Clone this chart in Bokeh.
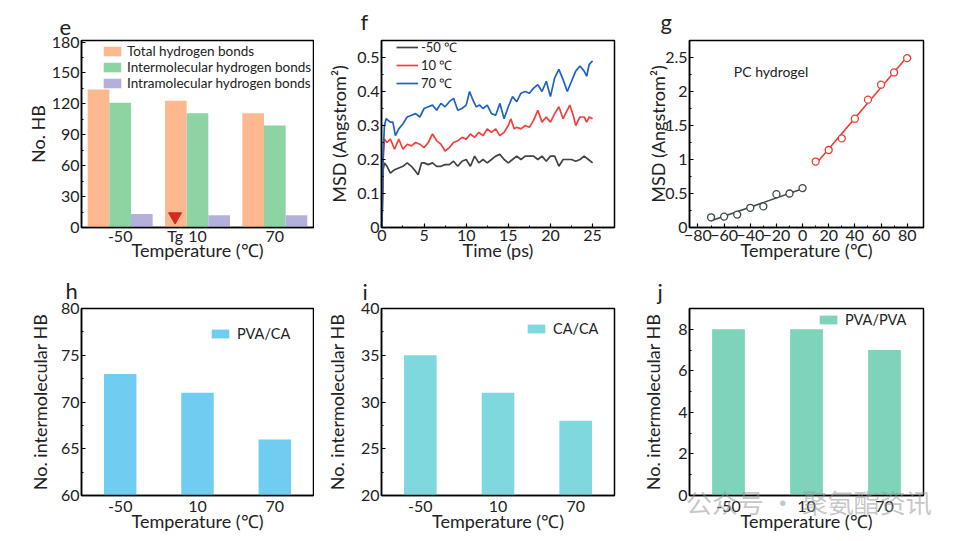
from bokeh.plotting import figure
from bokeh.models import (FactorRange, Range1d, Legend, LegendItem, Label, Title,
                          FixedTicker, ColumnDataSource, Div)
from bokeh.transform import dodge
from bokeh.layouts import column, row
from bokeh.embed import file_html
from bokeh.resources import INLINE
import numpy as np

FONT = "Lato"

# ---------------- data ----------------
temps = ["-50", "10", "70"]
total_hb = [134, 123, 111]
inter_hb = [121, 111, 99]
intra_hb = [13, 12, 12]
tg_marker_y = [10.6]
tg_label = "Tg"

t_m50 = [0, 0.15, 0.3, 0.6, 1.0, 1.5, 2.0, 2.5, 3.0, 3.5, 4.0, 4.3, 4.7, 5.0, 5.5, 6.0, 6.5, 7.0, 7.5, 8.0,
         8.5, 9.0, 9.5, 10.0, 10.5, 11.0, 11.5, 12.0, 12.5, 13.0, 13.5, 14.0, 14.5, 15.0, 15.5, 16.0, 16.5,
         17.0, 17.5, 18.0, 18.5, 19.0, 19.5, 20.0, 20.5, 21.0, 21.5, 22.0, 22.5, 23.0, 23.5, 24.0, 24.5, 25.0]
msd_m50 = [0.0, 0.17, 0.19, 0.18, 0.16, 0.17, 0.175, 0.18, 0.19, 0.18, 0.165, 0.155, 0.19, 0.19, 0.185,
           0.19, 0.18, 0.18, 0.185, 0.185, 0.195, 0.18, 0.195, 0.20, 0.18, 0.21, 0.19, 0.20, 0.19, 0.20,
           0.21, 0.215, 0.20, 0.19, 0.20, 0.21, 0.20, 0.21, 0.21, 0.21, 0.20, 0.21, 0.195, 0.21, 0.21,
           0.18, 0.20, 0.20, 0.20, 0.195, 0.20, 0.21, 0.20, 0.19]

t_10 = [0, 0.15, 0.3, 0.6, 1.0, 1.5, 2.0, 2.5, 3.0, 3.5, 4.0, 4.5, 5.0, 5.5, 6.0, 6.5, 7.0, 7.5, 8.0, 8.5,
        9.0, 9.5, 10.0, 10.5, 11.0, 11.5, 12.0, 12.5, 13.0, 13.5, 14.0, 14.5, 15.0, 15.3, 15.7, 16.0, 16.5,
        17.0, 17.5, 18.0, 18.5, 19.0, 19.5, 20.0, 20.5, 21.0, 21.5, 22.0, 22.3, 22.7, 23.0, 23.5, 24.0,
        24.3, 24.6, 25.0]
msd_10 = [0.0, 0.2, 0.26, 0.25, 0.26, 0.23, 0.26, 0.23, 0.245, 0.24, 0.25, 0.245, 0.235, 0.25, 0.275,
          0.255, 0.245, 0.225, 0.235, 0.25, 0.255, 0.265, 0.26, 0.275, 0.265, 0.28, 0.27, 0.29, 0.28, 0.29,
          0.27, 0.28, 0.30, 0.32, 0.29, 0.295, 0.29, 0.30, 0.295, 0.315, 0.345, 0.31, 0.325, 0.31, 0.335,
          0.355, 0.32, 0.345, 0.36, 0.33, 0.30, 0.325, 0.325, 0.31, 0.325, 0.32]

t_70 = [0, 0.15, 0.3, 0.5, 1.0, 1.3, 1.6, 2.0, 2.5, 3.0, 3.5, 4.0, 4.5, 5.0, 5.5, 6.0, 6.5, 7.0, 7.5, 8.0,
        8.5, 9.0, 9.5, 10.0, 10.4, 10.8, 11.2, 11.6, 12.0, 12.5, 13.0, 13.5, 14.0, 14.5, 15.0, 15.5, 16.0,
        16.5, 17.0, 17.5, 18.0, 18.5, 19.0, 19.5, 20.0, 20.5, 21.0, 21.5, 22.0, 22.5, 23.0, 23.5, 24.0,
        24.3, 24.6, 25.0]
msd_70 = [0.0, 0.22, 0.30, 0.32, 0.31, 0.31, 0.27, 0.29, 0.305, 0.325, 0.33, 0.335, 0.325, 0.35, 0.355,
          0.36, 0.345, 0.365, 0.355, 0.37, 0.38, 0.345, 0.35, 0.36, 0.40, 0.375, 0.355, 0.36, 0.35, 0.36,
          0.335, 0.33, 0.365, 0.32, 0.355, 0.385, 0.37, 0.395, 0.40, 0.395, 0.41, 0.42, 0.40, 0.43, 0.385,
          0.44, 0.465, 0.435, 0.40, 0.43, 0.46, 0.475, 0.46, 0.445, 0.48, 0.49]

g_temp_low = [-70, -60, -50, -40, -30, -20, -10, 0]
g_msd_low = [0.15, 0.16, 0.19, 0.29, 0.31, 0.49, 0.50, 0.58]
g_temp_high = [10, 20, 30, 40, 50, 60, 70, 80]
g_msd_high = [0.97, 1.14, 1.31, 1.60, 1.88, 2.10, 2.28, 2.49]

pva_ca = [73, 71, 66]
ca_ca = [35, 31, 28]
pva_pva = [8, 8, 7]

e_yticks = [0, 30, 60, 90, 120, 150, 180]
f_xticks = [0, 5, 10, 15, 20, 25]
f_yticks = [0.0, 0.1, 0.2, 0.3, 0.4, 0.5]
g_xticks = [-80, -60, -40, -20, 0, 20, 40, 60, 80]
g_yticks = [0.0, 0.5, 1.0, 1.5, 2.0, 2.5]
h_yticks = [60, 65, 70, 75, 80]
i_yticks = [20, 25, 30, 35, 40]
j_yticks = [0, 2, 4, 6, 8]

TEMP_LABEL = "Temperature (℃)"
MSD_LABEL = "MSD (Angstrom²)"
HB_LABEL = "No. intermolecular HB"
WATERMARK = "公众号 · 聚氨酯资讯"

TXT = "#222222"
W = 314
H_TOP, H_BOT = 270, 268
# (left, right) borders for the three columns; (top, bottom) borders for the two rows
COL_B = [(81, 1), (67, 14), (61, 19)]
TOP_B = (40, 43)
BOT_B = (38, 43)


def make_fig(h, xr, yr, col, rowb, **kw):
    bl, br = COL_B[col]
    bt, bb = rowb
    p = figure(width=W, height=h, x_range=xr, y_range=yr, output_backend="svg",
               toolbar_location=None, min_border_left=bl, min_border_right=br,
               min_border_top=bt, min_border_bottom=bb, **kw)
    p.outline_line_color = "black"
    p.outline_line_width = 1.5
    p.outline_line_alpha = 1.0
    p.grid.visible = False
    p.background_fill_color = "white"
    p.border_fill_color = "white"
    return p


def style_axes(p, ystd, xlab_std, xtitle_std):
    for ax in p.axis:
        ax.axis_line_width = 1.5
        ax.axis_line_color = "black"
        ax.major_tick_in = 4
        ax.major_tick_out = 0
        ax.minor_tick_in = 2
        ax.minor_tick_out = 0
        ax.major_tick_line_width = 1.2
        ax.major_label_text_font = FONT
        ax.major_label_text_font_size = "16px"
        ax.major_label_text_color = TXT
        ax.axis_label_text_font = FONT
        ax.axis_label_text_font_size = "18px"
        ax.axis_label_text_font_style = "normal"
        ax.axis_label_text_color = TXT
    for ax in p.xaxis:
        ax.major_label_standoff = xlab_std
        ax.axis_label_standoff = xtitle_std
    for ax in p.yaxis:
        ax.axis_label_standoff = ystd
        ax.major_label_standoff = 2


def panel_title(p, t, offset, standoff, valign):
    p.add_layout(Title(text=t, align="left", offset=offset, standoff=standoff, vertical_align=valign,
                       text_font=FONT, text_font_size="22px", text_font_style="normal",
                       text_color=TXT), "above")


def style_legend(leg, size):
    leg.border_line_alpha = 0
    leg.background_fill_alpha = 0
    leg.padding = 0
    leg.margin = 0
    leg.spacing = 0
    leg.glyph_width = 22
    leg.label_text_font = FONT
    leg.label_text_font_size = size
    leg.label_text_color = TXT


# ---------------- panel e ----------------
n_cat = len(temps)
cat_pos = [i + 0.5 for i in range(n_cat)]           # centre of each temperature group
pe = make_fig(H_TOP, Range1d(0, n_cat), Range1d(0, 181.5), 0, TOP_B)
tg_pos = cat_pos[temps.index("10")] - 0.29
tick_pos = cat_pos + [tg_pos]
tick_txt = temps + [tg_label]
pe.xaxis.ticker = FixedTicker(ticks=tick_pos)
pe.xaxis.major_label_overrides = {pos_: txt_ for pos_, txt_ in zip(tick_pos, tick_txt)}
pe.xaxis.axis_label = TEMP_LABEL
src_e = ColumnDataSource(dict(xc=cat_pos, total=total_hb, inter=inter_hb, intra=intra_hb))
r_tot = pe.vbar(x=dodge("xc", -0.28), top="total", width=0.28, source=src_e,
                fill_color="#fdb88f", line_color=None)
r_inter = pe.vbar(x=dodge("xc", 0.0), top="inter", width=0.28, source=src_e,
                  fill_color="#8cd4a2", line_color=None)
r_intra = pe.vbar(x=dodge("xc", 0.28), top="intra", width=0.28, source=src_e,
                  fill_color="#b4b0dc", line_color=None)
src_tg = ColumnDataSource(dict(xc=[tg_pos], y=tg_marker_y))
pe.scatter(x="xc", y="y", source=src_tg, marker="inverted_triangle",
           size=13, fill_color="#d42a20", line_color="#d42a20")
pe.yaxis.ticker = FixedTicker(ticks=e_yticks, minor_ticks=[15, 45, 75, 105, 135, 165])
pe.yaxis.axis_label = "No. HB"
style_axes(pe, 0, -2, -9)
pe.xaxis.major_tick_line_color = None
pe.xaxis.minor_tick_line_color = None
leg_e = Legend(items=[LegendItem(label="Total hydrogen bonds", renderers=[r_tot]),
                      LegendItem(label="Intermolecular hydrogen bonds", renderers=[r_inter]),
                      LegendItem(label="Intramolecular hydrogen bonds", renderers=[r_intra])],
               location=(20, 136))
style_legend(leg_e, "13.5px")
leg_e.glyph_height = 12
leg_e.label_height = 12
leg_e.label_standoff = 4
pe.add_layout(leg_e)
panel_title(pe, "e", -22, 10, "middle")

# ---------------- panel f ----------------
pf = make_fig(H_TOP, Range1d(-0.05, 27.6), Range1d(0, 0.55), 1, TOP_B)
l1 = pf.line(t_m50, msd_m50, line_color="#3e4444", line_width=1.7)
l2 = pf.line(t_10, msd_10, line_color="#f2403c", line_width=1.7)
l3 = pf.line(t_70, msd_70, line_color="#1f62c2", line_width=1.7)
pf.xaxis.ticker = FixedTicker(ticks=f_xticks, minor_ticks=[2.5, 7.5, 12.5, 17.5, 22.5])
pf.yaxis.ticker = FixedTicker(ticks=f_yticks, minor_ticks=[0.05, 0.15, 0.25, 0.35, 0.45])
pf.xaxis.axis_label = "Time (ps)"
pf.yaxis.axis_label = MSD_LABEL
style_axes(pf, 4, 2, -5)
leg_f = Legend(items=[LegendItem(label="-50 ℃", renderers=[l1]),
                      LegendItem(label="10 ℃", renderers=[l2]),
                      LegendItem(label="70 ℃", renderers=[l3])],
               location=(15, 135))
style_legend(leg_f, "13px")
leg_f.glyph_height = 12
leg_f.label_height = 12
leg_f.label_standoff = 3
pf.add_layout(leg_f)
panel_title(pf, "f", -21, 10, "middle")

# ---------------- panel g ----------------
pg = make_fig(H_TOP, Range1d(-86.5, 92.5), Range1d(0, 2.75), 2, TOP_B)
k1, b1 = np.polyfit(g_temp_low, g_msd_low, 1)
k2, b2 = np.polyfit(g_temp_high, g_msd_high, 1)
fx1 = [min(g_temp_low), max(g_temp_low)]
fx2 = [min(g_temp_high), max(g_temp_high)]
pg.line(fx1, [k1 * v + b1 for v in fx1], line_color="#3d4a48", line_width=1.6)
pg.line(fx2, [k2 * v + b2 for v in fx2], line_color="#f03a30", line_width=1.6)
pg.scatter(g_temp_low, g_msd_low, marker="circle", size=7, fill_color="white",
           line_color="#3d4a48", line_width=1.3)
pg.scatter(g_temp_high, g_msd_high, marker="circle", size=7, fill_color="white",
           line_color="#f03a30", line_width=1.3)
pg.xaxis.ticker = FixedTicker(ticks=g_xticks, minor_ticks=[-70, -50, -30, -10, 10, 30, 50, 70])
pg.yaxis.ticker = FixedTicker(ticks=g_yticks, minor_ticks=[0.25, 0.75, 1.25, 1.75, 2.25])
pg.xaxis.axis_label = TEMP_LABEL
pg.yaxis.axis_label = MSD_LABEL
style_axes(pg, -7, 2, -5)
pg.add_layout(Label(x=-52.6, y=2.29, text="PC hydrogel", text_font=FONT, text_font_size="14px",
                    text_align="left", text_baseline="middle", text_color=TXT))
panel_title(pg, "g", -29, 10, "middle")


# ---------------- panels h, i, j ----------------
def bar_panel(vals, yr, yticks, minor, color, name, col, loc, ystd):
    p = make_fig(H_BOT, FactorRange(factors=temps), yr, col, BOT_B)
    src = ColumnDataSource(dict(temp=temps, v=vals))
    r = p.vbar(x="temp", top="v", width=0.42, bottom=yr.start, source=src,
               fill_color=color, line_color=None)
    p.yaxis.ticker = FixedTicker(ticks=yticks, minor_ticks=minor)
    p.xaxis.axis_label = TEMP_LABEL
    p.yaxis.axis_label = HB_LABEL
    style_axes(p, ystd, 5, -5)
    p.xaxis.major_tick_line_color = None
    leg = Legend(items=[LegendItem(label=name, renderers=[r])], location=loc)
    style_legend(leg, "14.5px")
    leg.glyph_height = 11
    leg.label_height = 11
    leg.label_standoff = 6
    p.add_layout(leg)
    return p


ph = bar_panel(pva_ca, Range1d(60, 80), h_yticks, [62.5, 67.5, 72.5, 77.5], "#6fcdf1", "PVA/CA",
               0, (128, 153), 7)
panel_title(ph, "h", -16, 8, "middle")

pi = bar_panel(ca_ca, Range1d(20, 40), i_yticks, [22.5, 27.5, 32.5, 37.5], "#7fd8dd", "CA/CA",
               1, (144, 158), 10)
panel_title(pi, "i", -19, 8, "bottom")

pj = bar_panel(pva_pva, Range1d(0, 9), j_yticks, [1, 3, 5, 7], "#7dd4ba", "PVA/PVA",
               2, (128, 167), 11)
panel_title(pj, "j", -32, 8, "bottom")

# faint watermark that overlays the bottom-right panel in the reference
wm = Div(text=WATERMARK, width=260, height=34,
         styles={"position": "absolute", "left": "681px", "top": "478px",
                 "font-family": "Noto Sans CJK SC", "font-size": "26px",
                 "color": "rgba(150,150,150,0.55)", "white-space": "nowrap",
                 "pointer-events": "none", "z-index": "10"})

layout = column(row(pe, pf, pg), row(ph, pi, pj), wm)

with open("out.html", "w") as fh:
    fh.write(file_html(layout, INLINE))
